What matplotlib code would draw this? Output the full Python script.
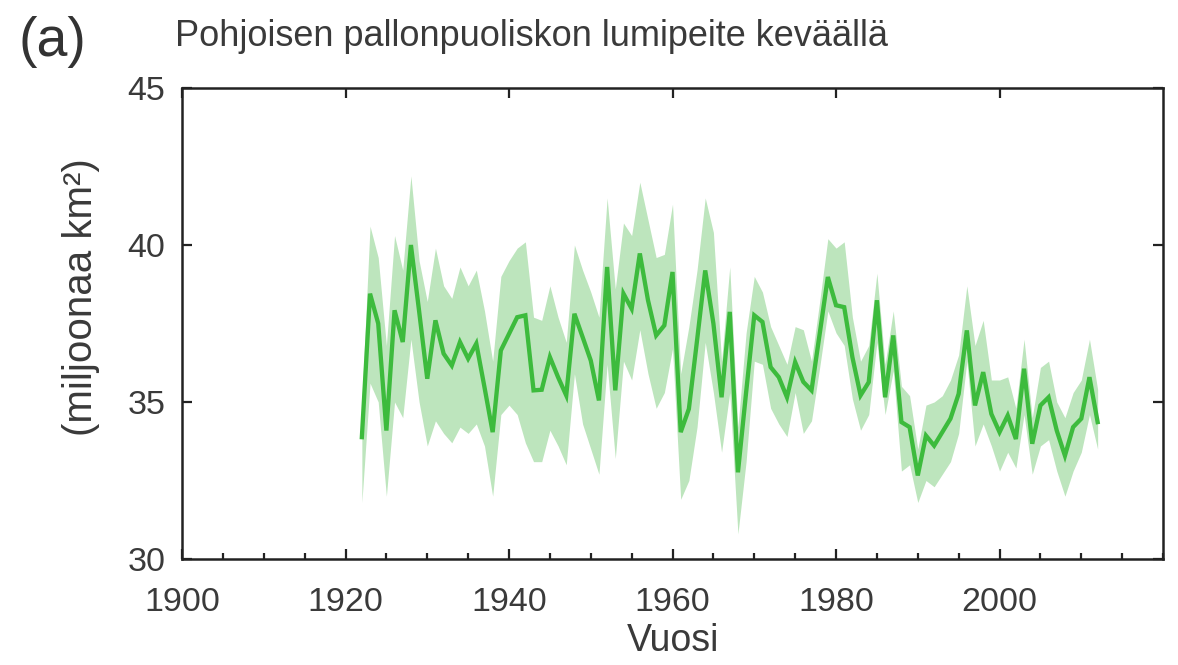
import numpy as np
import matplotlib
matplotlib.use("Agg")
import matplotlib.pyplot as plt
from matplotlib.ticker import MultipleLocator

plt.rcParams['font.family'] = ['Liberation Sans', 'DejaVu Sans']

# --- data (Northern Hemisphere spring snow cover, 1922-2012) ---
years = np.arange(1922, 2013)

snow_mean = [
    33.88, 38.45, 37.50, 34.09, 37.92, 36.91, 40.00, 37.90, 35.74, 37.60, 36.54,
    36.16, 36.91, 36.38, 36.86, 35.47, 34.04, 36.64, 37.17, 37.70, 37.76, 35.37,
    35.39, 36.43, 35.79, 35.21, 37.81, 37.07, 36.32, 35.05, 39.30, 35.37, 38.45,
    37.97, 39.73, 38.24, 37.12, 37.44, 39.14, 34.04, 34.78, 36.96, 39.19, 37.50,
    35.15, 37.87, 32.76, 35.30, 37.76, 37.55, 36.11, 35.79, 35.15, 36.27, 35.64,
    35.37, 37.17, 38.98, 38.08, 38.02, 36.43, 35.21, 35.63, 38.24, 35.15, 37.12,
    34.36, 34.20, 32.66, 33.93, 33.61, 34.04, 34.47, 35.26, 37.28, 34.89, 35.95,
    34.62, 34.04, 34.57, 33.82, 36.06, 33.67, 34.89, 35.15, 34.09, 33.29, 34.20,
    34.47, 35.79, 34.36,
]

snow_upper = [
    35.0, 40.6, 39.6, 36.8, 40.3, 39.2, 42.2, 39.5, 38.2, 39.9, 38.7,
    38.3, 39.3, 38.7, 39.2, 37.9, 36.3, 39.0, 39.5, 39.9, 40.1, 37.7,
    37.6, 38.7, 37.7, 36.9, 40.0, 39.2, 38.5, 37.7, 41.5, 38.6, 40.7,
    40.3, 42.0, 40.8, 39.6, 39.7, 41.3, 35.9, 37.4, 39.2, 41.5, 40.4,
    36.3, 39.3, 34.2, 37.2, 39.0, 38.5, 37.4, 36.8, 36.2, 37.4, 37.3,
    36.3, 38.2, 40.2, 39.9, 40.1, 37.7, 36.3, 36.8, 39.1, 36.2, 37.9,
    35.5, 35.2, 33.5, 34.9, 35.0, 35.2, 35.7, 36.5, 38.7, 36.8, 37.6,
    35.7, 35.7, 35.8, 34.8, 37.0, 34.5, 36.1, 36.3, 35.0, 34.5, 35.3,
    35.7, 37.0, 35.4,
]

snow_lower = [
    31.8, 35.6, 35.0, 32.0, 35.0, 34.5, 37.0, 35.0, 33.6, 34.4, 34.0,
    33.7, 34.2, 34.0, 34.3, 33.6, 32.0, 34.6, 34.9, 34.6, 33.7, 33.1,
    33.1, 34.1, 33.6, 33.0, 35.9, 34.3, 33.5, 32.7, 36.2, 33.2, 36.3,
    35.7, 37.3, 35.9, 34.8, 35.3, 36.7, 31.9, 32.5, 34.2, 36.9, 35.3,
    33.4, 35.3, 30.8, 33.1, 36.3, 36.2, 34.8, 34.3, 33.9, 35.3, 34.0,
    34.4, 36.1, 37.9, 37.2, 36.8, 35.1, 34.1, 34.6, 36.9, 34.6, 36.0,
    32.8, 33.0, 31.8, 32.5, 32.3, 32.7, 33.1, 34.0, 36.3, 33.6, 34.3,
    33.6, 32.8, 33.4, 32.9, 34.6, 32.7, 33.6, 33.8, 32.8, 32.0, 32.8,
    33.4, 34.6, 33.5,
]

x_ticks = [1900, 1920, 1940, 1960, 1980, 2000]
y_ticks = [30, 35, 40, 45]

text_color = "#3a3a3a"
line_color = "#3dbb3d"
band_color = "#bde5bd"

fig = plt.figure(figsize=(11.78, 6.65), dpi=100)
ax = fig.add_axes([0.1545, 0.1594, 0.8328, 0.7083])

# uncertainty band + mean line
ax.fill_between(years, snow_lower, snow_upper, color=band_color, linewidth=0)
ax.plot(years, snow_mean, color=line_color, linewidth=3.1, solid_joinstyle="miter")

ax.set_xlim(1900, 2020)
ax.set_ylim(30, 45)
ax.set_xticks(x_ticks)
ax.set_xticklabels([str(t) for t in x_ticks])
ax.xaxis.set_minor_locator(MultipleLocator(5))
ax.set_yticks(y_ticks)
ax.set_yticklabels([str(t) for t in y_ticks])

for sp in ax.spines.values():
    sp.set_linewidth(1.8)
    sp.set_color("#222222")

ax.tick_params(which="major", direction="in", length=7, width=1.6, top=True, right=True,
               labelsize=24.5, labelcolor=text_color, color="#222222")
ax.tick_params(axis="x", which="major", pad=20)
ax.tick_params(axis="y", which="major", pad=12)
ax.tick_params(which="minor", direction="in", length=4, width=1.6, top=False, color="#222222")

ax.set_xlabel("Vuosi", fontsize=27, color=text_color, labelpad=4)
ax.set_ylabel("(miljoonaa km²)", fontsize=29, color=text_color)
ax.yaxis.set_label_coords(-0.084, 0.556)

fig.text(18 / 1178, 1 - 42 / 665, "(a)", fontsize=40, color="#333333", va="center", ha="left")
fig.text(175 / 1178, 1 - 46 / 665, "Pohjoisen pallonpuoliskon lumipeite keväällä",
         fontsize=26, color=text_color, va="baseline", ha="left")

fig.savefig("out.png", dpi=100)
